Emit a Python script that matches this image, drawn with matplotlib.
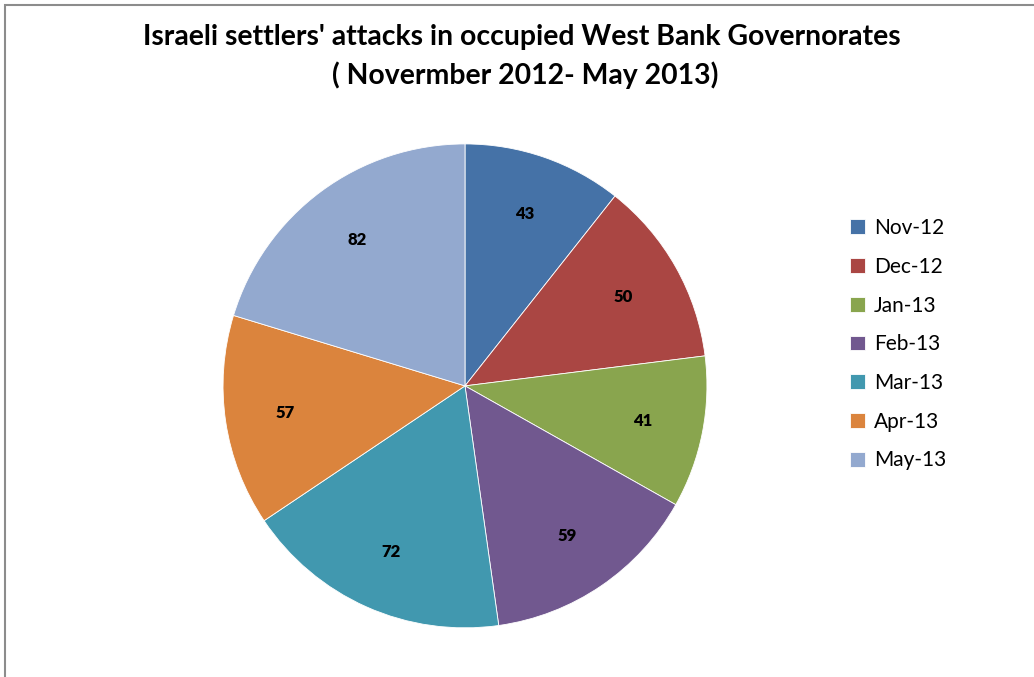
import matplotlib.pyplot as plt
from matplotlib.patches import Rectangle

# 数据
months = ['Nov-12', 'Dec-12', 'Jan-13', 'Feb-13', 'Mar-13', 'Apr-13', 'May-13']
attacks = [43, 50, 41, 59, 72, 57, 82]
colors = ['#4572A7', '#AA4643', '#89A54E', '#71588F', '#4198AF', '#DB843D', '#93A9CF']

plt.rcParams['font.family'] = ['Lato', 'DejaVu Sans']

fig = plt.figure(figsize=(10.34, 6.77), dpi=100)

# 外框
fig.patches.append(Rectangle((5 / 1034, -0.1), 1.2, 1 - 5 / 677 + 0.1,
                             transform=fig.transFigure, fill=False,
                             edgecolor='#8c8c8c', linewidth=1.5))

ax = fig.add_axes([0.2157, 0.0725, 0.468, 0.715])
wedges, texts = ax.pie(attacks, colors=colors, labels=[str(v) for v in attacks],
                       startangle=90, counterclock=False, labeldistance=0.75,
                       wedgeprops=dict(edgecolor='white', linewidth=0.6),
                       textprops=dict(fontsize=12, fontweight='heavy', color='black',
                                      ha='center', va='center'))
ax.set_xlim(-1, 1)
ax.set_ylim(-1, 1)
ax.set_aspect('equal')

fig.text(0.505, 1 - 37 / 677, "Israeli settlers' attacks in occupied West Bank Governorates",
         ha='center', va='center', fontsize=20.4, fontweight='bold')
fig.text(0.508, 1 - 75 / 677, "( Novermber 2012- May 2013)",
         ha='center', va='center', fontsize=20.4, fontweight='bold')

fig.legend(wedges, months, loc='upper left', bbox_to_anchor=(850 / 1034, 1 - 218 / 677),
           frameon=False, fontsize=15, handlelength=0.7, handleheight=0.7,
           handletextpad=0.45, labelspacing=0.9, borderpad=0, borderaxespad=0)

fig.savefig('out.png', dpi=100)
